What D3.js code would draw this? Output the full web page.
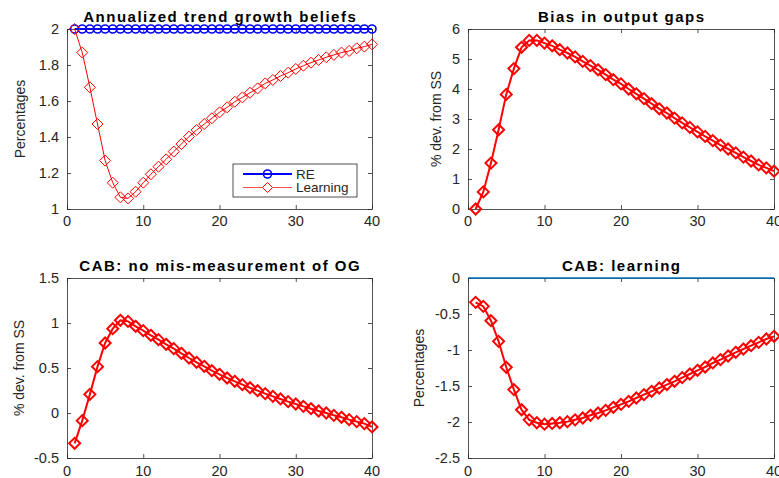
<!DOCTYPE html>
<html>
<head>
<meta charset="utf-8">
<script src="https://cdn.jsdelivr.net/npm/d3@7"></script>
<style>
  body { margin: 0; background: #fff; }
  svg { display: block; font-family: "Liberation Sans", Arial, Helvetica, sans-serif; }
</style>
</head>
<body>
<svg id="chart" width="779" height="478"></svg>
<script>
// ---------- data ----------
const periods = d3.range(1, 41);
const xTicks = [0, 10, 20, 30, 40];

const trendRE = periods.map(() => 2);
const trendLearning = [2.00, 1.869, 1.676, 1.472, 1.269, 1.146, 1.065, 1.059, 1.096, 1.146,
  1.193, 1.235, 1.276, 1.319, 1.361, 1.402, 1.439, 1.472, 1.504, 1.537,
  1.565, 1.596, 1.620, 1.646, 1.670, 1.698, 1.717, 1.739, 1.757, 1.778,
  1.796, 1.813, 1.828, 1.843, 1.856, 1.869, 1.878, 1.893, 1.902, 1.915];

const outputGapBias = [0.0, 0.57, 1.53, 2.64, 3.82, 4.68, 5.39, 5.62, 5.62, 5.53,
  5.44, 5.31, 5.20, 5.07, 4.92, 4.78, 4.64, 4.48, 4.31, 4.17,
  4.00, 3.84, 3.68, 3.51, 3.34, 3.20, 3.03, 2.87, 2.72, 2.57,
  2.42, 2.28, 2.13, 2.00, 1.87, 1.73, 1.60, 1.47, 1.37, 1.26];

const cabNoMis = [-0.337, -0.085, 0.207, 0.515, 0.778, 0.937, 1.030, 1.018, 0.963, 0.915,
  0.863, 0.815, 0.763, 0.715, 0.663, 0.611, 0.563, 0.519, 0.470, 0.430,
  0.389, 0.352, 0.315, 0.281, 0.248, 0.215, 0.185, 0.156, 0.126, 0.100,
  0.074, 0.048, 0.022, 0.000, -0.026, -0.048, -0.074, -0.096, -0.118, -0.155];

const cabLearning = [-0.338, -0.394, -0.593, -0.880, -1.240, -1.550, -1.830, -1.970, -2.010, -2.030,
  -2.020, -2.010, -1.995, -1.970, -1.944, -1.907, -1.875, -1.838, -1.796, -1.755,
  -1.713, -1.667, -1.620, -1.574, -1.528, -1.480, -1.435, -1.384, -1.333, -1.282,
  -1.236, -1.180, -1.134, -1.083, -1.032, -0.986, -0.940, -0.894, -0.847, -0.810];
const cabZero = [0, 0];

const titles = ["Annualized trend growth beliefs", "Bias in output gaps",
  "CAB: no mis-measurement of OG", "CAB: learning"];
const yLabels = ["Percentages", "% dev. from SS", "% dev. from SS", "Percentages"];
const yDomains = [[1, 2], [0, 6], [-0.5, 1.5], [-2.5, 0]];
const yTickVals = [[1, 1.2, 1.4, 1.6, 1.8, 2], [0, 1, 2, 3, 4, 5, 6],
  [-0.5, 0, 0.5, 1, 1.5], [-2.5, -2, -1.5, -1, -0.5, 0]];
const legendLabels = ["RE", "Learning"];

// ---------- layout ----------
const layout = [
  { l: 67, r: 372, t: 29, b: 209, xlabBase: 226, ylabX: 20 },
  { l: 468, r: 774, t: 29, b: 209, xlabBase: 226, ylabX: 436 },
  { l: 67, r: 372, t: 278, b: 458, xlabBase: 476, ylabX: 19 },
  { l: 468, r: 774, t: 278, b: 458, xlabBase: 476, ylabX: 419 }
];

const svg = d3.select("#chart");
const axisColor = "#262626";
const fmt = v => String(v);

function diamondPath(s) {
  return `M0,${-s}L${s},0L0,${s}L${-s},0Z`;
}

function drawPanel(i, series) {
  const L = layout[i];
  const x = d3.scaleLinear().domain([0, 40]).range([L.l, L.r]);
  const y = d3.scaleLinear().domain(yDomains[i]).range([L.b, L.t]);
  const g = svg.append("g");

  // axes (ticks inside, box)
  const tl = 4;
  const axB = g.append("g").attr("transform", `translate(0,${L.b})`)
    .call(d3.axisBottom(x).tickValues(xTicks).tickSizeInner(-tl).tickSizeOuter(0).tickFormat(""));
  const axT = g.append("g").attr("transform", `translate(0,${L.t})`)
    .call(d3.axisTop(x).tickValues(xTicks).tickSizeInner(-tl).tickSizeOuter(0).tickFormat(""));
  const axL = g.append("g").attr("transform", `translate(${L.l},0)`)
    .call(d3.axisLeft(y).tickValues(yTickVals[i]).tickSizeInner(-tl).tickSizeOuter(0).tickFormat(""));
  const axR = g.append("g").attr("transform", `translate(${L.r},0)`)
    .call(d3.axisRight(y).tickValues(yTickVals[i]).tickSizeInner(-tl).tickSizeOuter(0).tickFormat(""));
  [axB, axT, axL, axR].forEach(a => {
    a.selectAll("path.domain").attr("stroke", axisColor).attr("stroke-width", 0.8);
    a.selectAll(".tick line").attr("stroke", axisColor).attr("stroke-width", 0.8);
  });

  // tick labels
  g.selectAll("text.xt").data(xTicks).enter().append("text")
    .attr("x", d => x(d)).attr("y", L.xlabBase)
    .attr("text-anchor", "middle").attr("font-size", 14.5).attr("fill", axisColor)
    .text(fmt);
  g.selectAll("text.yt").data(yTickVals[i]).enter().append("text")
    .attr("x", L.l - 8).attr("y", d => y(d) + 5)
    .attr("text-anchor", "end").attr("font-size", 14.5).attr("fill", axisColor)
    .text(fmt);

  // title
  g.append("text").attr("x", (L.l + L.r) / 2 + 0.75).attr("y", L.t - 7)
    .attr("text-anchor", "middle").attr("font-size", 15).attr("font-weight", "bold")
    .attr("letter-spacing", 1.5)
    .attr("fill", "#000").text(titles[i]);

  // y label
  const yc = (L.t + L.b) / 2;
  g.append("text").attr("transform", `translate(${L.ylabX + 5},${yc}) rotate(-90)`)
    .attr("text-anchor", "middle").attr("font-size", 14).attr("fill", axisColor)
    .text(yLabels[i]);

  // series
  series.forEach(s => {
    const line = d3.line().x((d, k) => x(s.xs[k])).y(d => y(d));
    g.append("path").datum(s.values).attr("d", line)
      .attr("fill", "none").attr("stroke", s.color).attr("stroke-width", s.lw);
    if (s.marker === "circle") {
      g.selectAll(null).data(s.values).enter().append("circle")
        .attr("cx", (d, k) => x(s.xs[k])).attr("cy", d => y(d)).attr("r", 4)
        .attr("fill", "none").attr("stroke", s.color).attr("stroke-width", s.mlw);
    } else if (s.marker === "diamond") {
      g.selectAll(null).data(s.values).enter().append("path")
        .attr("transform", (d, k) => `translate(${x(s.xs[k])},${y(d)})`)
        .attr("d", diamondPath(5.5))
        .attr("fill", "none").attr("stroke", s.color).attr("stroke-width", s.mlw);
    }
  });
  return { x, y, g };
}

// Panel 1
drawPanel(0, [
  { xs: periods, values: trendRE, color: "#0000ff", lw: 2, marker: "circle", mlw: 1.6 },
  { xs: periods, values: trendLearning, color: "#ff0000", lw: 1, marker: "diamond", mlw: 1 }
]);
// legend
{
  const lg = svg.append("g");
  lg.append("rect").attr("x", 233).attr("y", 164).attr("width", 124).attr("height", 33)
    .attr("fill", "#fff").attr("stroke", axisColor).attr("stroke-width", 0.8);
  const rows = [
    { y: 174, color: "#0000ff", lw: 2, marker: "circle" },
    { y: 187.5, color: "#ff5050", lw: 1, marker: "diamond" }
  ];
  rows.forEach((r, k) => {
    lg.append("line").attr("x1", 243).attr("x2", 292).attr("y1", r.y).attr("y2", r.y)
      .attr("stroke", r.color).attr("stroke-width", r.lw);
    if (r.marker === "circle") {
      lg.append("circle").attr("cx", 267.5).attr("cy", r.y).attr("r", 4)
        .attr("fill", "none").attr("stroke", r.color).attr("stroke-width", 1.6);
    } else {
      lg.append("path").attr("transform", `translate(267.5,${r.y})`).attr("d", diamondPath(5))
        .attr("fill", "#fff").attr("stroke", "#ff0000").attr("stroke-width", 1);
    }
    lg.append("text").attr("x", 296).attr("y", r.y + 4.5).attr("font-size", 13.5)
      .attr("fill", axisColor).text(legendLabels[k]);
  });
}

// Panel 2
drawPanel(1, [
  { xs: periods, values: outputGapBias, color: "#ff0000", lw: 2, marker: "diamond", mlw: 2 }
]);
// Panel 3
drawPanel(2, [
  { xs: periods, values: cabNoMis, color: "#ff0000", lw: 2, marker: "diamond", mlw: 2 }
]);
// Panel 4
drawPanel(3, [
  { xs: [0, 40], values: cabZero, color: "#0072BD", lw: 1.5, marker: null },
  { xs: periods, values: cabLearning, color: "#ff0000", lw: 2, marker: "diamond", mlw: 2 }
]);
</script>
</body>
</html>
